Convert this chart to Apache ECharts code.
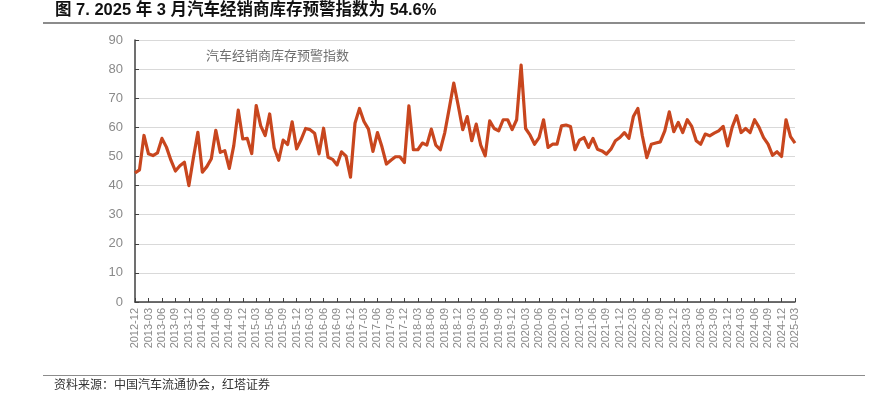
<!DOCTYPE html>
<html><head><meta charset="utf-8">
<script src="https://cdn.jsdelivr.net/npm/echarts@6/dist/echarts.min.js"></script>
<style>html,body{margin:0;padding:0;background:#fff}#c{width:888px;height:394px}</style>
</head><body><div id="c"></div>
<script>
const titleText = '图 7. 2025 年 3 月汽车经销商库存预警指数为 54.6%';
const sourceText = '资料来源：中国汽车流通协会，红塔证券';
const seriesName = '汽车经销商库存预警指数';
const months = [
'2012-12',
'2013-01','2013-02','2013-03','2013-04','2013-05','2013-06','2013-07','2013-08','2013-09','2013-10','2013-11','2013-12',
'2014-01','2014-02','2014-03','2014-04','2014-05','2014-06','2014-07','2014-08','2014-09','2014-10','2014-11','2014-12',
'2015-01','2015-02','2015-03','2015-04','2015-05','2015-06','2015-07','2015-08','2015-09','2015-10','2015-11','2015-12',
'2016-01','2016-02','2016-03','2016-04','2016-05','2016-06','2016-07','2016-08','2016-09','2016-10','2016-11','2016-12',
'2017-01','2017-02','2017-03','2017-04','2017-05','2017-06','2017-07','2017-08','2017-09','2017-10','2017-11','2017-12',
'2018-01','2018-02','2018-03','2018-04','2018-05','2018-06','2018-07','2018-08','2018-09','2018-10','2018-11','2018-12',
'2019-01','2019-02','2019-03','2019-04','2019-05','2019-06','2019-07','2019-08','2019-09','2019-10','2019-11','2019-12',
'2020-01','2020-02','2020-03','2020-04','2020-05','2020-06','2020-07','2020-08','2020-09','2020-10','2020-11','2020-12',
'2021-01','2021-02','2021-03','2021-04','2021-05','2021-06','2021-07','2021-08','2021-09','2021-10','2021-11','2021-12',
'2022-01','2022-02','2022-03','2022-04','2022-05','2022-06','2022-07','2022-08','2022-09','2022-10','2022-11','2022-12',
'2023-01','2023-02','2023-03','2023-04','2023-05','2023-06','2023-07','2023-08','2023-09','2023-10','2023-11','2023-12',
'2024-01','2024-02','2024-03','2024-04','2024-05','2024-06','2024-07','2024-08','2024-09','2024-10','2024-11','2024-12',
'2025-01','2025-02','2025-03'
];
const values = [
44.3,
45.4,57.2,50.9,50.3,51.2,56.2,53.2,48.7,45.0,46.8,48.0,40.0,
49.5,58.3,44.6,46.5,49.2,59.0,51.4,52.0,45.9,53.7,65.9,56.0,
56.2,51.0,67.5,60.5,57.2,64.6,53.0,48.7,55.6,54.1,61.9,52.6,
55.8,59.6,59.2,58.0,50.9,59.7,49.7,49.0,47.1,51.6,50.1,42.9,
61.4,66.5,62.0,59.4,51.7,58.2,53.3,47.4,48.7,49.9,49.9,47.9,
67.4,52.3,52.3,54.6,53.9,59.4,53.9,52.3,58.2,66.6,75.2,67.4,
59.2,63.7,55.4,61.1,53.9,50.2,62.2,59.6,58.8,62.6,62.6,59.2,
62.6,81.4,59.6,57.3,54.2,56.5,62.6,53.1,54.2,54.2,60.5,60.8,
60.3,52.3,55.6,56.5,53.1,56.2,52.5,51.9,50.8,52.5,55.4,56.5,
58.2,56.2,63.7,66.5,57.1,49.6,54.2,54.6,55.0,58.8,65.3,58.5,
61.7,58.2,62.6,60.3,55.4,54.2,57.7,57.1,58.0,58.8,60.3,53.6,
60.0,64.0,58.2,59.6,58.2,62.6,60.0,56.5,54.2,50.4,51.6,50.0,
62.6,56.8,54.6
];
const yTicks = {min: 0, max: 90, step: 10};

const chart = echarts.init(document.getElementById('c'), null, {renderer: 'canvas'});
const grey = '#8a8a8a';
chart.setOption({
  animation: false,
  backgroundColor: '#fff',
  textStyle: {fontFamily: 'Liberation Sans, Noto Sans CJK SC, sans-serif'},
  legend: {
    show: true, left: 201, top: 43, icon: 'none', itemWidth: 0, itemGap: 0,
    data: [seriesName],
    textStyle: {color: '#707070', fontSize: 13, fontFamily: 'Noto Sans CJK SC', padding: [0,0,0,-5]}
  },
  graphic: [
    {type: 'text', left: 55, top: 2, style: {text: titleText, fill: '#111', font: 'bold 16.5px "Liberation Sans", "Noto Sans CJK SC", sans-serif'}},
    {type: 'rect', shape: {x: 43, y: 22, width: 822, height: 2}, style: {fill: '#8c8c8c'}},
    {type: 'rect', shape: {x: 43, y: 375, width: 822, height: 1}, style: {fill: '#8c8c8c'}},
    {type: 'text', left: 54, top: 378, style: {text: sourceText, fill: '#333', font: '12px "Noto Sans CJK SC", sans-serif'}}
  ],
  grid: {left: 135, right: 93, top: 40, bottom: 92, containLabel: false},
  xAxis: {
    type: 'category', data: months, boundaryGap: false,
    axisLine: {show: true, lineStyle: {color: '#404040', width: 1.5}},
    axisTick: {show: true, inside: true, length: 4, interval: 2, lineStyle: {color: '#404040'}},
    axisLabel: {interval: 2, rotate: 90, color: grey, fontSize: 11, margin: 6, fontFamily: 'Liberation Sans'},
    splitLine: {show: false}
  },
  yAxis: {
    type: 'value', min: yTicks.min, max: yTicks.max, interval: yTicks.step,
    axisLine: {show: true, lineStyle: {color: '#404040', width: 1.5}},
    axisTick: {show: true, inside: true, length: 4, lineStyle: {color: '#404040'}},
    axisLabel: {color: grey, fontSize: 13, margin: 12, fontFamily: 'Liberation Sans'},
    splitLine: {show: true, lineStyle: {color: '#d9d9d9', width: 1}}
  },
  series: [{
    name: seriesName, type: 'line', data: values, symbol: 'none',
    lineStyle: {color: '#C8461E', width: 3.2, join: 'round'},
    itemStyle: {color: '#C8461E'}
  }]
});
</script></body></html>
